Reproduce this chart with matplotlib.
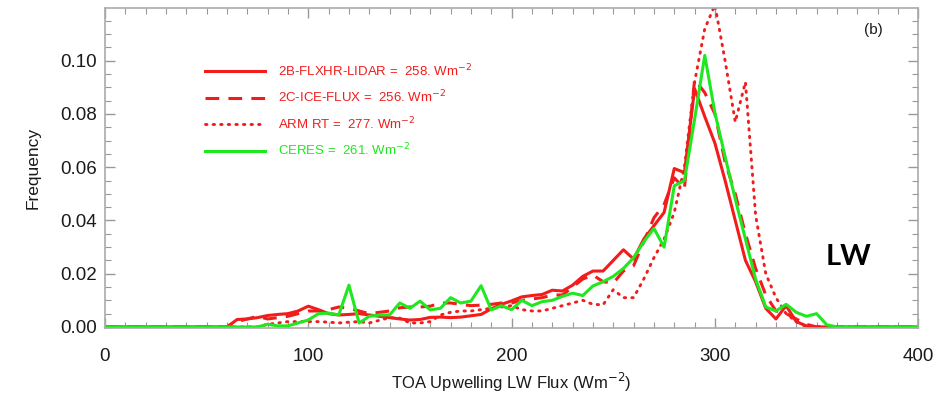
import matplotlib
matplotlib.use("Agg")
import matplotlib.pyplot as plt
from matplotlib.ticker import MultipleLocator
import numpy as np

plt.rcParams['font.family'] = ['Liberation Sans', 'DejaVu Sans']

# TOA LW flux bins (W m-2), 5 W m-2 wide
flux = np.arange(0, 405, 5)

# frequency for each product, one value per bin
lidar = [0.0]*13 + [
    0.0028, 0.003, 0.0035, 0.0043, 0.0047, 0.005, 0.006, 0.0078, 0.0065, 0.005,
    0.0045, 0.0047, 0.005, 0.0045, 0.004, 0.0035, 0.003, 0.0026, 0.0028, 0.0036,
    0.0037, 0.0035, 0.0037, 0.0042, 0.0047, 0.0068, 0.0085, 0.0098, 0.0113, 0.0118,
    0.0122, 0.0138, 0.0135, 0.0157, 0.019, 0.021, 0.021, 0.025, 0.029, 0.0255,
    0.033, 0.038, 0.043, 0.0595, 0.058, 0.0895, 0.079, 0.069, 0.055, 0.040,
    0.025, 0.017, 0.007, 0.003, 0.008, 0.002, 0.0004] + [0.0]*11

ice = [0.0]*13 + [
    0.002, 0.003, 0.004, 0.003, 0.0035, 0.004, 0.005, 0.006, 0.006, 0.0065,
    0.0075, 0.007, 0.006, 0.005, 0.0055, 0.006, 0.0072, 0.0075, 0.0075, 0.0078,
    0.009, 0.009, 0.0085, 0.008, 0.0082, 0.0085, 0.009, 0.009, 0.010, 0.0105,
    0.011, 0.012, 0.012, 0.015, 0.018, 0.0195, 0.017, 0.0165, 0.021, 0.023,
    0.032, 0.041, 0.046, 0.056, 0.052, 0.093, 0.088, 0.080, 0.062, 0.050,
    0.035, 0.022, 0.012, 0.006, 0.005, 0.003, 0.001] + [0.0]*11

arm = [0.0]*16 + [
    0.001, 0.0015, 0.002, 0.002, 0.002, 0.002, 0.0018,
    0.0015, 0.0018, 0.002, 0.0015, 0.0025, 0.0035, 0.0033, 0.0015, 0.0015, 0.002,
    0.0045, 0.0055, 0.006, 0.006, 0.0065, 0.007, 0.0075, 0.008, 0.0065, 0.006,
    0.006, 0.007, 0.008, 0.009, 0.010, 0.0085, 0.0083, 0.014, 0.011, 0.011,
    0.018, 0.026, 0.033, 0.043, 0.060, 0.092, 0.112, 0.121, 0.100, 0.077,
    0.092, 0.042, 0.020, 0.011, 0.005, 0.002, 0.0] + [0.0]*11

ceres = [0.0]*16 + [
    0.001, 0.0004, 0.0004, 0.0015, 0.0026, 0.005, 0.0052,
    0.0045, 0.0157, 0.0015, 0.004, 0.0045, 0.0045, 0.009, 0.007, 0.0097, 0.0064,
    0.007, 0.011, 0.009, 0.0097, 0.0155, 0.0064, 0.008, 0.0065, 0.010, 0.008,
    0.0095, 0.010, 0.0115, 0.0127, 0.0118, 0.0154, 0.017, 0.019, 0.022, 0.026,
    0.032, 0.037, 0.030, 0.053, 0.055, 0.078, 0.102, 0.0804, 0.064, 0.048,
    0.033, 0.018, 0.0075, 0.006, 0.0085, 0.0055, 0.004, 0.005, 0.0008] + [0.0]*9

labels = ['2B-FLXHR-LIDAR =  258. Wm$^{-2}$',
          '2C-ICE-FLUX =  256. Wm$^{-2}$',
          'ARM RT =  277. Wm$^{-2}$',
          'CERES =  261. Wm$^{-2}$']

red = '#f21c1c'
green = '#1ee81e'

fig = plt.figure(figsize=(9.37, 4.01), dpi=100)
ax = fig.add_axes([0.112, 0.182, 0.868, 0.798])

ax.plot(flux, lidar, color=red, lw=2.2, label=labels[0])
ax.plot(flux, ice, color=red, lw=2.2, ls=(0, (4.5, 3)), label=labels[1])
ax.plot(flux, arm, color=red, lw=2.1, ls=(0, (0.5, 2.1)), dash_capstyle='round',
        label=labels[2])
ax.plot(flux, ceres, color=green, lw=2.2, label=labels[3])

ax.set_xlim(0, 400)
ax.set_ylim(-0.0004, 0.1198)
ax.xaxis.set_major_locator(MultipleLocator(100))
ax.xaxis.set_minor_locator(MultipleLocator(10))
ax.yaxis.set_major_locator(MultipleLocator(0.02))
ax.yaxis.set_minor_locator(MultipleLocator(0.005))
ax.yaxis.set_major_formatter(plt.FormatStrFormatter('%.2f'))
ax.tick_params(which='both', direction='in', top=True, right=True,
               color='#999999', labelsize=13.5, labelcolor='#1a1a1a')
ax.tick_params(which='major', length=7, width=1)
ax.tick_params(which='minor', length=4, width=0.8)
ax.tick_params(axis='x', pad=14.5)
ax.tick_params(axis='y', pad=6)
for s in ax.spines.values():
    s.set_color('#aaaaaa')
    s.set_linewidth(1.2)

ax.set_xlabel('TOA Upwelling LW Flux (Wm$^{-2}$)', fontsize=12, color='#1a1a1a', labelpad=4)
ax.set_ylabel('Frequency', fontsize=12.5, color='#1a1a1a', labelpad=14)

leg = ax.legend(loc='upper left', bbox_to_anchor=(0.1225, 0.83), frameon=False,
                fontsize=9.5, handlelength=4.6, handletextpad=1.0,
                labelspacing=0.75, borderpad=0, borderaxespad=0)
for txt, c in zip(leg.get_texts(), [red, red, red, green]):
    txt.set_color(c)

ax.text(0.945, 0.93, '(b)', transform=ax.transAxes, ha='center', va='center',
        fontsize=11, color='#1a1a1a')
ax.text(0.914, 0.222, 'LW', transform=ax.transAxes, ha='center', va='center',
        fontsize=21, fontweight='bold', family=['Lato', 'DejaVu Sans'])

fig.savefig('out.png', dpi=100)
